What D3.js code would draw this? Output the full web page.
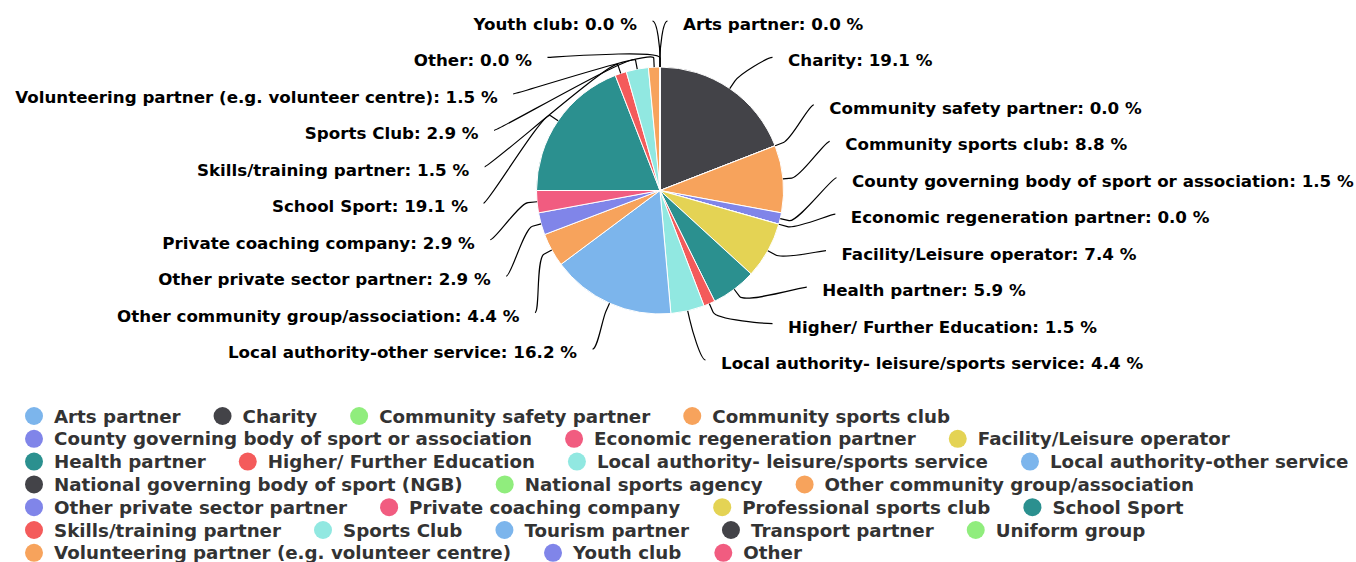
<!DOCTYPE html>
<html>
<head>
<meta charset="utf-8">
<script src="https://cdn.jsdelivr.net/npm/d3@7"></script>
<style>
  body { margin: 0; background: #fff; }
  svg { display: block; font-family: "DejaVu Sans", sans-serif; }
</style>
</head>
<body>
<div id="chart"></div>
<script>
// Partner types and the share (%) of each; null = no data for that type
const categories = [
  "Arts partner", "Charity", "Community safety partner", "Community sports club",
  "County governing body of sport or association", "Economic regeneration partner",
  "Facility/Leisure operator", "Health partner", "Higher/ Further Education",
  "Local authority- leisure/sports service", "Local authority-other service",
  "National governing body of sport (NGB)", "National sports agency",
  "Other community group/association", "Other private sector partner",
  "Private coaching company", "Professional sports club", "School Sport",
  "Skills/training partner", "Sports Club", "Tourism partner", "Transport partner",
  "Uniform group", "Volunteering partner (e.g. volunteer centre)", "Youth club", "Other"
];
const percentages = [
  0.0, 19.1, 0.0, 8.8, 1.5, 0.0, 7.4, 5.9, 1.5, 4.4, 16.2,
  null, null, 4.4, 2.9, 2.9, null, 19.1, 1.5, 2.9, null, null, null, 1.5, 0.0, 0.0
];
const palette = ["#7cb5ec", "#434348", "#90ed7d", "#f7a35c", "#8085e9",
                 "#f15c80", "#e4d354", "#2b908f", "#f45b5b", "#91e8e1"];

const width = 1356, height = 562;
const cx = 660, cy = 190.5, radius = 123.5;
const labelR = 169.5;      // radius + label distance
const labelGap = 36.45;    // vertical room for one data label
const connectorOffset = 9;

const color = d3.scaleOrdinal().domain(categories).range(palette);

const data = categories.map((name, i) => ({ name, value: percentages[i] }));

const svg = d3.select("#chart")
  .append("svg")
    .attr("width", width)
    .attr("height", height);

// pie slices (types without data get no slice)
const pie = d3.pie().sort(null).value(d => d.value);
const arcs = pie(data.filter(d => d.value !== null));
const arc = d3.arc().innerRadius(0).outerRadius(radius);

const g = svg.append("g").attr("transform", "translate(" + cx + "," + cy + ")");
g.selectAll("path.slice")
  .data(arcs)
  .enter()
  .append("path")
    .attr("class", "slice")
    .attr("d", arc)
    .attr("fill", d => color(d.data.name))
    .attr("stroke", "#fff")
    .attr("stroke-width", 1);

// data label positions, spread out per side like the original
const labels = arcs.map(d => {
  const mid = (d.startAngle + d.endAngle) / 2;
  return {
    d, mid,
    left: mid > Math.PI,
    ny: cy - labelR * Math.cos(mid)
  };
});

function distribute(items, lo, hi, gap) {
  let clusters = items.map(it => ({ items: [it] }));
  const place = c => {
    const mean = d3.mean(c.items, it => it.ny);
    const size = (c.items.length - 1) * gap;
    c.start = Math.max(lo, Math.min(hi - size, mean - size / 2));
    c.end = c.start + size;
  };
  clusters.forEach(place);
  let merged = true;
  while (merged) {
    merged = false;
    for (let i = 1; i < clusters.length; i++) {
      if (clusters[i].start < clusters[i - 1].end + gap) {
        clusters[i - 1].items = clusters[i - 1].items.concat(clusters[i].items);
        clusters.splice(i, 1);
        place(clusters[i - 1]);
        merged = true;
        break;
      }
    }
  }
  clusters.forEach(c => c.items.forEach((it, k) => { it.y = c.start + k * gap; }));
}

const lo = cy - labelR, hi = cy + labelR;
[false, true].forEach(side => {
  const items = labels.filter(l => l.left === side);
  items.sort((a, b) => a.ny - b.ny);
  distribute(items, lo, hi, labelGap);
});

labels.forEach(l => {
  const s = l.left ? -1 : 1;
  const atEdge = l.y <= lo + 0.01 || l.y >= hi - 0.01;
  const dy = (atEdge ? l.ny : l.y) - cy;
  l.x = cx + s * (Math.sqrt(Math.max(0, labelR * labelR - dy * dy)) + 7.5);
  l.touch = [cx + radius * Math.sin(l.mid), cy - radius * Math.cos(l.mid)];
  l.brk = [cx + (radius + connectorOffset) * Math.sin(l.mid),
           cy - (radius + connectorOffset) * Math.cos(l.mid)];
});

svg.append("g")
  .selectAll("path")
  .data(labels)
  .enter()
  .append("path")
    .attr("fill", "none")
    .attr("stroke", "#000")
    .attr("stroke-width", 1.2)
    .attr("d", l => {
      const p = d3.path();
      p.moveTo(l.x, l.y);
      p.bezierCurveTo(l.x + (l.left ? 5 : -5), l.y,
                      2 * l.brk[0] - l.touch[0], 2 * l.brk[1] - l.touch[1],
                      l.brk[0], l.brk[1]);
      p.lineTo(l.touch[0], l.touch[1]);
      return p.toString();
    });

svg.append("g")
  .selectAll("text")
  .data(labels)
  .enter()
  .append("text")
    .attr("x", l => l.x + (l.left ? -15.5 : 15.5))
    .attr("y", l => l.y + 9)
    .attr("text-anchor", l => l.left ? "end" : "start")
    .attr("font-size", "16.7px")
    .attr("font-weight", "bold")
    .attr("fill", "#000")
    .text(l => l.d.data.name + ": " + l.d.data.value.toFixed(1) + " %");

// legend, wrapped into rows
const legendX = 25, legendY = 416, rowH = 22.8, symR = 9, itemGap = 33;
const legend = svg.append("g");
let lx = legendX, row = 0;
categories.forEach(name => {
  const item = legend.append("g");
  const t = item.append("text")
    .attr("font-size", "18.25px")
    .attr("font-weight", "bold")
    .attr("fill", "#333333")
    .text(name);
  const w = t.node().getComputedTextLength();
  if (lx > legendX && lx + 29 + w > width) { lx = legendX; row++; }
  const y = legendY + row * rowH;
  item.append("circle")
    .attr("cx", lx + symR)
    .attr("cy", y)
    .attr("r", symR)
    .attr("fill", color(name));
  t.attr("x", lx + 29).attr("y", y + 6.5);
  lx += 29 + w + itemGap;
});
</script>
</body>
</html>
